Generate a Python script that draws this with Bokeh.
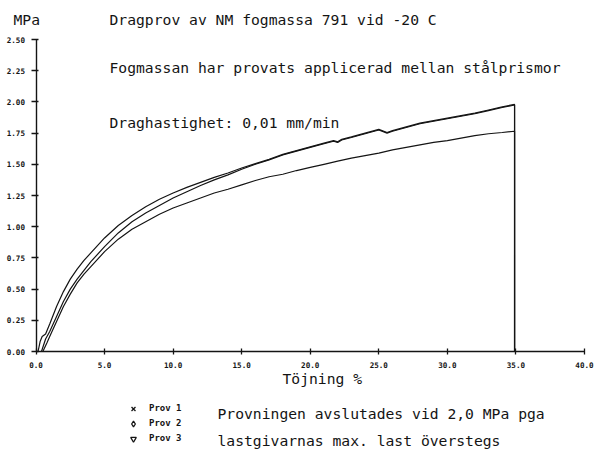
from bokeh.plotting import figure
from bokeh.models import (Range1d, FixedTicker, NumeralTickFormatter, Label,
                          Legend, LegendItem)
from bokeh.embed import file_html
from bokeh.resources import INLINE

# ---------------- data ----------------
x_ticks = [0, 5, 10, 15, 20, 25, 30, 35, 40]
y_ticks = [0.0, 0.25, 0.5, 0.75, 1.0, 1.25, 1.5, 1.75, 2.0, 2.25, 2.5]

prov1_x = [0.15, 0.3, 0.45, 0.7, 1.0, 1.5, 2.0, 2.5, 3.0, 3.5, 4.0, 5.0, 6.0,
           7.0, 8.0, 9.0, 10.0, 11.0, 12.0, 13.0, 14.0, 15.0, 16.0, 17.0,
           18.0, 19.0, 20.0, 21.0, 21.7, 22.0, 22.3, 23.0, 24.0, 25.0, 25.6,
           26.0, 27.0, 28.0, 29.0, 30.0, 31.0, 32.0, 33.0, 34.0, 34.9, 34.9]
prov1_y = [0.0, 0.08, 0.12, 0.14, 0.22, 0.36, 0.48, 0.58, 0.66, 0.73, 0.79,
           0.91, 1.01, 1.09, 1.16, 1.22, 1.27, 1.315, 1.355, 1.395, 1.43,
           1.47, 1.505, 1.54, 1.58, 1.61, 1.64, 1.67, 1.69, 1.68, 1.70, 1.72,
           1.75, 1.78, 1.755, 1.77, 1.80, 1.83, 1.85, 1.87, 1.89, 1.91, 1.935,
           1.96, 1.98, 0.0]

prov2_x = [0.4, 0.7, 1.0, 1.5, 2.0, 2.5, 3.0, 3.5, 4.0, 5.0, 6.0, 7.0, 8.0,
           9.0, 10.0, 11.0, 12.0, 13.0, 14.0, 15.0, 16.0, 17.0, 18.0, 19.0,
           20.0, 21.0, 21.7, 22.0, 22.3, 23.0, 24.0, 25.0, 25.6, 26.0, 27.0,
           28.0, 29.0, 30.0, 31.0, 32.0, 33.0, 34.0, 34.9, 34.9]
prov2_y = [0.0, 0.10, 0.16, 0.28, 0.40, 0.50, 0.58, 0.65, 0.72, 0.84, 0.95,
           1.04, 1.11, 1.17, 1.23, 1.28, 1.33, 1.375, 1.415, 1.46, 1.50,
           1.535, 1.575, 1.605, 1.635, 1.665, 1.685, 1.675, 1.695, 1.715,
           1.745, 1.775, 1.75, 1.765, 1.795, 1.825, 1.845, 1.865, 1.885,
           1.905, 1.93, 1.955, 1.975, 0.0]

prov3_x = [0.5, 0.8, 1.0, 1.5, 2.0, 2.5, 3.0, 3.5, 4.0, 5.0, 6.0, 7.0, 8.0,
           9.0, 10.0, 11.0, 12.0, 13.0, 14.0, 15.0, 16.0, 17.0, 18.0, 19.0,
           20.0, 21.0, 22.0, 23.0, 24.0, 25.0, 26.0, 27.0, 28.0, 29.0, 30.0,
           31.0, 32.0, 33.0, 34.0, 34.9, 34.9]
prov3_y = [0.0, 0.07, 0.12, 0.24, 0.36, 0.46, 0.55, 0.62, 0.68, 0.80, 0.90,
           0.98, 1.04, 1.10, 1.15, 1.19, 1.23, 1.27, 1.30, 1.335, 1.37, 1.40,
           1.42, 1.45, 1.475, 1.50, 1.525, 1.55, 1.57, 1.59, 1.615, 1.635,
           1.655, 1.675, 1.69, 1.71, 1.73, 1.745, 1.755, 1.765, 0.0]

series_labels = ["Prov 1", "Prov 2", "Prov 3"]
series_markers = ["x", "diamond", "inverted_triangle"]

title_text = "Dragprov av NM fogmassa 791 vid -20 C"
line2_text = "Fogmassan har provats applicerad mellan stålprismor"
line3_text = "Draghastighet: 0,01 mm/min"
y_unit_text = "MPa"
x_label_text = "Töjning %"
note1_text = "Provningen avslutades vid 2,0 MPa pga"
note2_text = "lastgivarnas max. last överstegs"

# ---------------- figure ----------------
MONO = "DejaVu Sans Mono"
INK = "#141414"

W, H = 603, 450
# axis placement inside the canvas (px from canvas left / top)
X0_PX, X40_PX = 35.5, 584.0
Y0_PX, Y25_PX = 351.0, 39.0
ux = 40.0 / (X40_PX - X0_PX)
uy = 2.5 / (Y0_PX - Y25_PX)
x_range = Range1d(-X0_PX * ux, 40.0 + (W - X40_PX) * ux)
y_range = Range1d(-(H - Y0_PX) * uy, 2.5 + Y25_PX * uy)

p = figure(width=W, height=H, output_backend="svg", toolbar_location=None,
           x_range=x_range, y_range=y_range,
           min_border=0, min_border_left=0, min_border_right=0,
           min_border_top=0, min_border_bottom=0,
           background_fill_color="white", border_fill_color="white")
p.outline_line_color = None
p.xgrid.visible = False
p.ygrid.visible = False

p.xaxis.fixed_location = 0
p.yaxis.fixed_location = 0
p.xaxis.bounds = (0, 40)
p.yaxis.bounds = (0, 2.5)
p.xaxis.ticker = FixedTicker(ticks=x_ticks)
p.xaxis.formatter = NumeralTickFormatter(format="0.0")
p.yaxis.ticker = FixedTicker(ticks=y_ticks)
p.yaxis.formatter = NumeralTickFormatter(format="0.00")

for ax in (p.xaxis, p.yaxis):
    ax.axis_line_color = INK
    ax.axis_line_width = 1.4
    ax.major_tick_line_color = INK
    ax.major_tick_line_width = 1.3
    ax.minor_tick_line_color = None
    ax.major_label_text_font = MONO
    ax.major_label_text_font_style = "bold"
    ax.major_label_text_font_size = "7.6px"
    ax.major_label_text_color = INK

p.xaxis.major_tick_in = 3
p.xaxis.major_tick_out = 3
p.xaxis.major_label_standoff = 7
p.yaxis.major_tick_in = 2
p.yaxis.major_tick_out = 5
p.yaxis.major_label_standoff = 6

# curves
for xs, ys in ((prov3_x, prov3_y), (prov2_x, prov2_y), (prov1_x, prov1_y)):
    p.line(xs, ys, line_color=INK, line_width=1.2)

# legend glyph renderers (hidden markers)
marker_renderers = []
for xs, ys, mk in zip((prov1_x, prov2_x, prov3_x), (prov1_y, prov2_y, prov3_y),
                      series_markers):
    r = p.scatter(xs, ys, marker=mk, size=7.5, line_color=INK, line_width=1.3,
                  fill_color="white", visible=False)
    marker_renderers.append(r)

legend = Legend(items=[LegendItem(label=lab, renderers=[r])
                       for lab, r in zip(series_labels, marker_renderers)],
                location=(126, 4.5), orientation="vertical",
                glyph_width=14, glyph_height=15, label_height=15,
                label_standoff=9, spacing=0, padding=0, margin=0,
                label_text_font=MONO, label_text_font_style="bold",
                label_text_font_size="9px", label_text_color=INK,
                background_fill_alpha=0, border_line_color=None,
                inactive_fill_alpha=0)
p.add_layout(legend)

def add_text(txt, x, y):
    p.add_layout(Label(x=x, y=y, x_units="screen", y_units="screen", text=txt,
                       text_font=MONO, text_font_size="14.7px",
                       text_color=INK, text_baseline="middle",
                       text_align="left"))

# positions relative to the canvas bottom-left corner
add_text(y_unit_text, 13, 431)
add_text(title_text, 109, 431)
add_text(line2_text, 109, 383)
add_text(line3_text, 109, 328)
add_text(x_label_text, 282, 72)
add_text(note1_text, 217, 37)
add_text(note2_text, 217, 10)

open("out.html", "w").write(file_html(p, INLINE))
